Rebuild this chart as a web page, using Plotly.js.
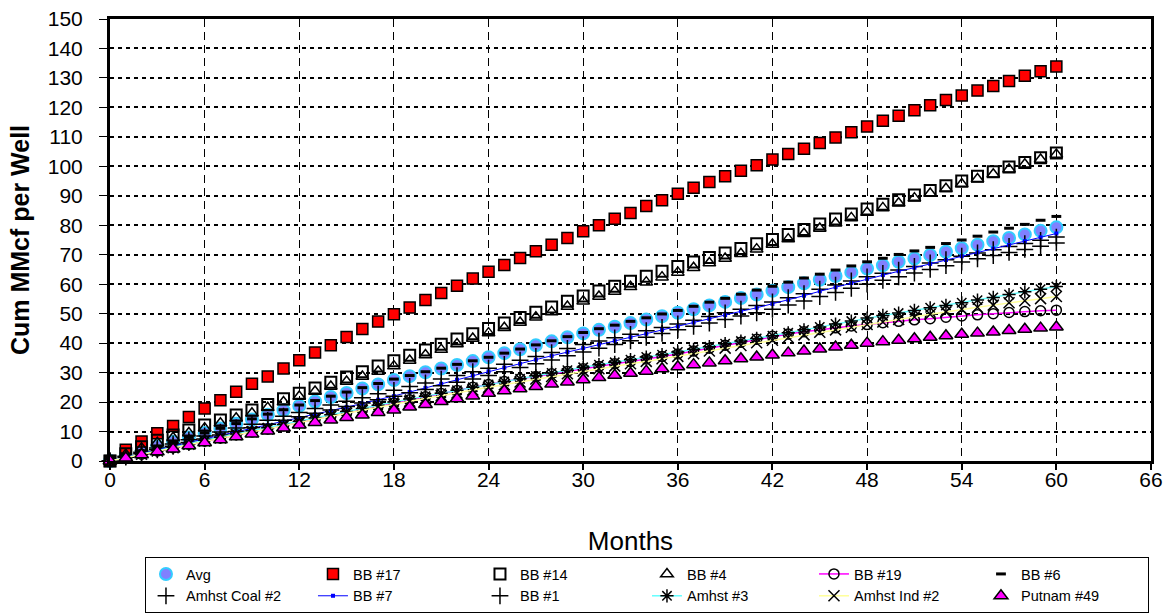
<!DOCTYPE html>
<html>
<head>
<meta charset="utf-8">
<script src="https://cdn.plot.ly/plotly-3.0.1.min.js"></script>
<style>
  html, body { margin: 0; padding: 0; background: #fff; }
  #chart { width: 1176px; height: 614px; }
</style>
</head>
<body>
<div id="chart"></div>
<script>
// Cumulative gas production per well (MMcf) by month on production
const months = Array.from({length: 61}, (_, i) => i);

const avg = [0,1.8,3.4,5.0,6.5,8.0,9.5,11.0,12.6,14.1,15.7,17.2,18.7,20.2,21.7,23.1,24.6,26.0,27.5,28.8,30.1,31.4,32.6,33.9,35.2,36.6,37.9,39.3,40.6,42.0,43.3,44.5,45.6,46.8,48.0,49.1,50.3,51.5,52.8,54.0,55.3,56.5,57.8,59.0,60.3,61.5,62.8,64.0,65.3,66.4,67.6,68.7,69.9,71.0,72.2,73.4,74.6,75.7,76.9,78.1,79.3];
const bb17 = [0,3.8,6.6,9.4,11.9,14.9,17.8,20.6,23.5,26.2,28.7,31.4,34.2,36.8,39.3,42.1,44.8,47.3,49.8,52.1,54.6,57.0,59.5,61.9,64.2,66.5,68.9,71.2,73.4,75.7,78.0,80.0,82.2,84.2,86.5,88.5,90.7,92.7,94.7,96.6,98.5,100.4,102.3,104.2,106.0,107.9,109.8,111.6,113.5,115.5,117.2,119.0,120.7,122.5,124.0,125.7,127.3,129.0,130.7,132.3,133.9];
const bb14 = [0,2.5,4.8,7.0,8.8,10.5,12.2,13.9,15.6,17.3,19.2,21.1,23.0,24.8,26.7,28.5,30.3,32.2,34.0,35.9,37.7,39.6,41.4,43.2,45.0,46.8,48.7,50.5,52.3,54.2,56.0,57.7,59.3,61.0,62.7,64.4,66.0,67.5,69.1,70.6,72.1,73.7,75.2,76.9,78.6,80.4,82.1,83.8,85.5,87.1,88.7,90.3,91.8,93.4,95.0,96.6,98.2,99.8,101.3,102.9,104.5];
const bb4 = [0,2.2,4.3,6.2,7.9,9.5,11.1,12.8,14.5,16.2,18.1,20.0,21.9,23.6,25.3,27.0,28.7,30.4,32.2,34.1,36.0,37.8,39.7,41.6,43.4,45.2,47.0,48.8,50.6,52.4,54.2,55.8,57.5,59.1,60.7,62.4,64.0,65.6,67.2,68.7,70.3,71.9,73.5,75.3,77.1,78.9,80.7,82.5,84.3,85.9,87.5,89.2,90.8,92.4,94.0,95.7,97.3,99.0,100.7,102.3,104.0];
const bb19 = [0,1.1,2.3,3.4,4.5,5.7,6.8,7.8,8.9,9.9,10.9,12.0,13.0,14.1,15.2,16.3,17.5,18.6,19.7,20.8,21.8,22.9,23.9,25.0,26.0,27.0,27.9,28.7,29.6,30.4,31.3,32.1,33.0,33.8,34.6,35.5,36.3,37.3,38.3,39.3,40.3,41.3,42.3,43.1,43.9,44.6,45.2,45.8,46.3,46.9,47.4,47.9,48.3,48.8,49.2,49.6,50.0,50.4,50.7,51.0,51.2];
const bb6 = [0,1.8,3.4,5.0,6.5,8.0,9.5,11.1,12.7,14.3,15.9,17.4,19.0,20.5,22.0,23.4,24.9,26.3,27.8,29.0,30.3,31.5,32.8,34.0,35.2,36.6,38.0,39.4,40.8,42.2,43.6,44.9,46.1,47.4,48.6,49.9,51.1,52.5,53.9,55.2,56.6,58.0,59.3,60.7,62.1,63.4,64.8,66.2,67.6,68.8,70.1,71.3,72.5,73.8,75.0,76.3,77.7,79.0,80.3,81.7,83.0];
const amhstCoal2 = [0,1.6,3.0,4.4,5.8,7.2,8.5,9.8,11.2,12.5,13.8,15.2,16.5,17.8,19.0,20.3,21.5,22.8,24.0,25.3,26.5,27.8,29.0,30.3,31.5,32.8,34.2,35.5,36.8,38.2,39.5,40.7,41.8,43.0,44.2,45.3,46.5,47.8,49.0,50.3,51.5,52.8,54.0,55.4,56.8,58.3,59.7,61.1,62.5,63.7,64.8,66.0,67.2,68.3,69.5,70.6,71.7,72.8,73.8,74.9,76.0];
const bb7 = [0,1.3,2.5,3.8,5.0,6.3,7.5,8.7,9.8,11.0,12.2,13.3,14.5,15.8,17.0,18.3,19.5,20.8,22.0,23.4,24.8,26.2,27.6,29.0,30.4,31.7,33.0,34.4,35.7,37.0,38.3,39.5,40.8,42.0,43.2,44.5,45.7,47.0,48.2,49.5,50.8,52.0,53.3,54.7,56.1,57.6,59.0,60.4,61.8,63.1,64.4,65.6,66.9,68.2,69.5,70.8,72.1,73.3,74.6,75.9,77.2];
const bb1 = [0,1.3,2.5,3.8,5.0,6.3,7.5,8.8,10.0,11.3,12.5,13.8,15.0,16.2,17.3,18.5,19.7,20.8,22.0,23.2,24.3,25.5,26.7,27.8,29.0,30.3,31.7,33.0,34.3,35.7,37.0,38.3,39.5,40.8,42.0,43.3,44.5,45.7,46.8,48.0,49.2,50.3,51.5,52.9,54.3,55.8,57.2,58.6,60.0,61.3,62.5,63.8,65.0,66.3,67.5,68.6,69.7,70.8,71.8,72.9,74.0];
const amhst3 = [0,1.2,2.3,3.5,4.7,5.8,7.0,8.1,9.2,10.3,11.3,12.4,13.5,14.6,15.7,16.8,17.8,18.9,20.0,21.0,22.0,23.0,24.0,25.0,26.0,27.0,27.9,28.9,29.9,30.8,31.8,32.7,33.5,34.4,35.3,36.1,37.0,37.9,38.8,39.8,40.7,41.6,42.5,43.5,44.5,45.5,46.5,47.5,48.5,49.4,50.2,51.1,52.0,52.8,53.7,54.6,55.5,56.5,57.4,58.3,59.2];
const amhstInd2 = [0,1.1,2.3,3.4,4.5,5.7,6.8,7.8,8.9,9.9,10.9,12.0,13.0,14.1,15.1,16.2,17.2,18.3,19.3,20.3,21.2,22.2,23.1,24.1,25.0,25.9,26.8,27.8,28.7,29.6,30.5,31.3,32.2,33.0,33.8,34.7,35.5,36.4,37.3,38.3,39.2,40.1,41.0,41.9,42.8,43.7,44.5,45.4,46.3,47.2,48.0,48.9,49.8,50.6,51.5,52.2,52.9,53.7,54.4,55.1,55.8];
const putnam49 = [0,1.0,2.1,3.1,4.1,5.2,6.2,7.2,8.2,9.2,10.2,11.2,12.2,13.1,13.9,14.8,15.6,16.5,17.3,18.3,19.2,20.2,21.1,22.1,23.0,23.8,24.5,25.3,26.1,26.8,27.6,28.3,29.1,29.8,30.5,31.3,32.0,32.7,33.3,34.0,34.7,35.3,36.0,36.7,37.3,38.0,38.7,39.3,40.0,40.5,41.0,41.5,42.0,42.5,43.0,43.4,43.8,44.3,44.7,45.1,45.5];

const xTicks = [0, 6, 12, 18, 24, 30, 36, 42, 48, 54, 60, 66];
const yTicks = [0,10,20,30,40,50,60,70,80,90,100,110,120,130,140,150];

const FONT = 'Liberation Sans, Arial, sans-serif';

function markersOnly(name, y, marker) {
  return { type: 'scatter', mode: 'markers', name: name, x: months, y: y, marker: marker, cliponaxis: false };
}
function withLine(name, y, lineColor, lineWidth, marker) {
  return { type: 'scatter', mode: 'lines+markers', name: name, x: months, y: y,
           line: { color: lineColor, width: lineWidth }, marker: marker, cliponaxis: false };
}

const traces = [
  markersOnly('Avg', avg, { symbol: 'circle', size: 12, color: '#8080ff', line: { color: '#33ccff', width: 2 } }),
  markersOnly('BB #17', bb17, { symbol: 'square', size: 11, color: '#ff0000', line: { color: '#000000', width: 1.5 } }),
  markersOnly('BB #14', bb14, { symbol: 'square-open', size: 11, color: '#000000', line: { color: '#000000', width: 2 } }),
  markersOnly('BB #4', bb4, { symbol: 'triangle-up-open', size: 11, color: '#000000', line: { color: '#000000', width: 1.5 } }),
  withLine('BB #19', bb19, '#ff00ff', 1.5, { symbol: 'circle-open', size: 10, color: '#000000', line: { color: '#000000', width: 1.5 } }),
  markersOnly('BB #6', bb6, { symbol: 'line-ew-open', size: 7, color: '#000000', line: { color: '#000000', width: 3 } }),
  markersOnly('Amhst Coal #2', amhstCoal2, { symbol: 'cross-thin-open', size: 12, color: '#000000', line: { color: '#000000', width: 1.5 } }),
  withLine('BB #7', bb7, '#0000ff', 1, { symbol: 'square', size: 4, color: '#0000ff', line: { width: 0 } }),
  markersOnly('BB #1', bb1, { symbol: 'cross-thin-open', size: 12, color: '#000000', line: { color: '#000000', width: 1.5 } }),
  withLine('Amhst #3', amhst3, '#66ffff', 1.5, { symbol: 'asterisk-open', size: 11, color: '#000000', line: { color: '#000000', width: 1.5 } }),
  withLine('Amhst Ind #2', amhstInd2, '#ffff99', 1.5, { symbol: 'x-thin-open', size: 11, color: '#000000', line: { color: '#000000', width: 1.5 } }),
  markersOnly('Putnam #49', putnam49, { symbol: 'triangle-up', size: 12, color: '#ff00ff', line: { color: '#000000', width: 1.5 } })
];

const layout = {
  width: 1176,
  height: 614,
  paper_bgcolor: '#ffffff',
  plot_bgcolor: '#ffffff',
  margin: { l: 110, r: 25, t: 19, b: 153, pad: 0, autoexpand: false },
  font: { family: FONT, color: '#000000' },
  showlegend: true,
  xaxis: {
    range: [0, 66],
    tickmode: 'array',
    tickvals: xTicks,
    ticktext: xTicks.map(String),
    ticks: 'outside',
    ticklen: 6,
    tickwidth: 2,
    tickcolor: '#000000',
    ticklabelstandoff: -8,
    tickfont: { family: FONT, size: 21, color: '#000000' },
    showline: true,
    linecolor: '#000000',
    linewidth: 3,
    mirror: true,
    showgrid: true,
    gridcolor: '#000000',
    gridwidth: 1,
    griddash: '8px,5px',
    zeroline: false,
    automargin: false,
    title: { text: 'Months', font: { family: FONT, size: 26, color: '#000000' }, standoff: 42 }
  },
  yaxis: {
    range: [0, 150],
    tickmode: 'array',
    tickvals: yTicks,
    ticktext: yTicks.map(String),
    ticks: 'outside',
    ticklen: 8,
    tickwidth: 1,
    tickcolor: '#000000',
    ticklabelstandoff: 12,
    tickfont: { family: FONT, size: 21, color: '#000000' },
    showline: true,
    linecolor: '#000000',
    linewidth: 3,
    mirror: true,
    showgrid: true,
    gridcolor: '#000000',
    gridwidth: 2,
    griddash: '4px,4px',
    zeroline: false,
    automargin: false,
    title: { text: 'Cum MMcf per Well', font: { family: FONT, size: 25, color: '#000000', weight: 'bold' }, standoff: 12 }
  },
  legend: {
    orientation: 'h',
    x: 0.0336,
    xanchor: 'left',
    y: -0.3439,
    yanchor: 'bottom',
    entrywidth: 122,
    entrywidthmode: 'pixels',
    bordercolor: '#000000',
    borderwidth: 1,
    bgcolor: '#ffffff',
    font: { family: FONT, size: 14.5, color: '#000000' },
    traceorder: 'normal',
    itemsizing: 'trace'
  }
};

Plotly.newPlot('chart', traces, layout, { displayModeBar: false, staticPlot: true });
</script>
</body>
</html>
